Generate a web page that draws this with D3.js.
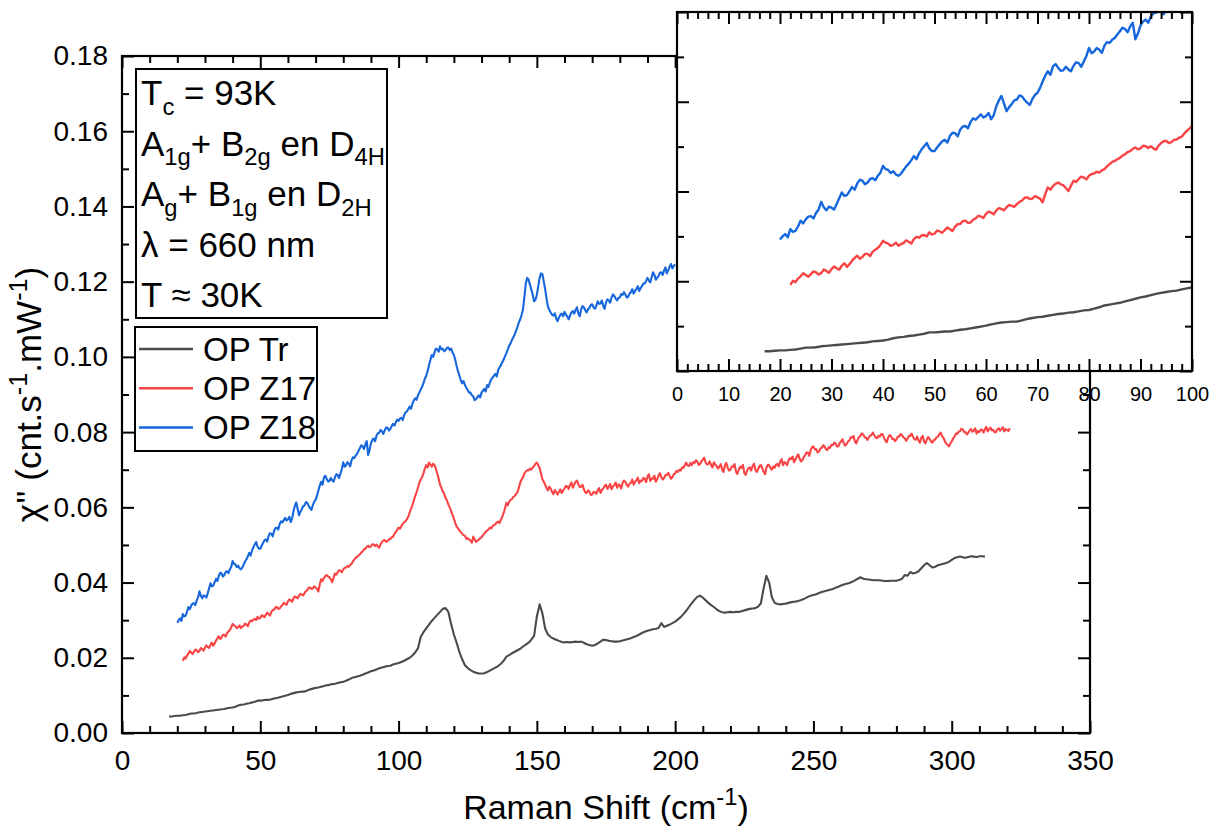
<!DOCTYPE html>
<html><head><meta charset="utf-8">
<script src="https://cdn.jsdelivr.net/npm/d3@7"></script>
<style>
body{margin:0;background:#fff}
svg{font-family:"Liberation Sans",Arial,sans-serif}
</style>
</head><body>
<svg id="c" width="1214" height="829"></svg>
<script>
// ---------- data ----------
// OP Tr : from 17 cm-1, every 1 cm-1
const trStart = 17, trStep = 1;
const trY = [
.0044,.0044,.0045,.0046,.0046,.0047,.0048,.0050,.0052,.0052,
.0053,.0055,.0056,.0057,.0058,.0059,.0060,.0061,.0062,.0063,
.0064,.0066,.0067,.0068,.0070,.0073,.0075,.0076,.0078,.0079,
.0081,.0083,.0086,.0086,.0087,.0088,.0088,.0090,.0092,.0093,
.0095,.0097,.0099,.0101,.0104,.0106,.0108,.0109,.0110,.0110,
.0113,.0116,.0118,.0120,.0121,.0123,.0125,.0127,.0128,.0130,
.0131,.0133,.0135,.0136,.0139,.0142,.0146,.0148,.0150,.0152,
.0155,.0158,.0161,.0164,.0166,.0169,.0172,.0174,.0176,.0178,
.0179,.0182,.0184,.0186,.0189,.0192,.0196,.0200,.0206,.0214,
.0225,.0255,.0268,.0278,.0288,.0298,.0306,.0314,.0322,.0330,
.0332,.0322,.0290,.0262,.0240,.0215,.0196,.0180,.0173,.0167,
.0163,.0160,.0158,.0158,.0159,.0162,.0166,.0170,.0174,.0178,
.0184,.0192,.0203,.0207,.0212,.0216,.0220,.0224,.0230,.0235,
.0240,.0248,.0258,.0310,.0342,.0318,.0278,.0262,.0255,.0251,
.0248,.0245,.0242,.0241,.0242,.0241,.0242,.0243,.0242,.0243,
.0240,.0236,.0234,.0232,.0234,.0238,.0243,.0248,.0247,.0245,
.0244,.0243,.0243,.0244,.0246,.0248,.0250,.0252,.0255,.0258,
.0262,.0266,.0269,.0272,.0274,.0276,.0277,.0279,.0292,.0282,
.0285,.0288,.0292,.0296,.0302,.0308,.0316,.0325,.0335,.0345,
.0354,.0362,.0365,.0360,.0353,.0346,.0340,.0335,.0329,.0324,
.0321,.0320,.0321,.0322,.0321,.0322,.0322,.0324,.0326,.0328,
.0330,.0331,.0332,.0336,.0345,.0385,.0418,.0400,.0360,.0346,
.0343,.0342,.0343,.0344,.0346,.0348,.0349,.0350,.0352,.0355,
.0358,.0362,.0365,.0367,.0369,.0372,.0375,.0377,.0379,.0381,
.0383,.0386,.0389,.0392,.0395,.0397,.0399,.0402,.0406,.0410,
.0414,.0410,.0409,.0408,.0407,.0406,.0406,.0406,.0405,.0404,
.0404,.0405,.0405,.0405,.0407,.0410,.0420,.0418,.0428,.0424,
.0426,.0430,.0438,.0446,.0452,.0446,.0440,.0442,.0446,.0448,
.0450,.0452,.0455,.0460,.0465,.0467,.0469,.0467,.0466,.0468,
.0470,.0469,.0468,.0470,.0470,.0469
];
// OP Z17 : from 22 cm-1, every 0.5 cm-1
const z17Start = 22, z17Step = 0.5;
const z17Y = [
.0192,.0201,.0198,.0206,.0211,.0218,.0214,.0210,.0216,.0222,
.0220,.0215,.0218,.0226,.0223,.0219,.0227,.0233,.0229,.0226,
.0235,.0240,.0232,.0238,.0246,.0252,.0257,.0250,.0254,.0261,
.0261,.0256,.0266,.0270,.0274,.0281,.0290,.0286,.0284,.0279,
.0281,.0286,.0279,.0283,.0285,.0291,.0288,.0284,.0294,.0299,
.0297,.0302,.0303,.0300,.0309,.0304,.0306,.0313,.0311,.0308,
.0314,.0320,.0316,.0312,.0322,.0327,.0328,.0334,.0335,.0330,
.0331,.0337,.0340,.0346,.0344,.0341,.0350,.0355,.0353,.0349,
.0358,.0363,.0361,.0358,.0365,.0370,.0368,.0366,.0372,.0377,
.0380,.0386,.0387,.0383,.0384,.0390,.0387,.0384,.0376,.0394,
.0409,.0404,.0412,.0417,.0420,.0416,.0414,.0408,.0401,.0413,
.0424,.0421,.0428,.0433,.0431,.0427,.0435,.0439,.0440,.0444,
.0442,.0447,.0450,.0456,.0461,.0466,.0468,.0472,.0475,.0480,
.0483,.0488,.0490,.0495,.0498,.0494,.0496,.0502,.0501,.0497,
.0501,.0496,.0493,.0502,.0508,.0512,.0513,.0508,.0510,.0515,
.0516,.0520,.0522,.0529,.0535,.0540,.0546,.0543,.0550,.0556,
.0560,.0563,.0568,.0575,.0586,.0596,.0605,.0618,.0630,.0640,
.0652,.0665,.0674,.0680,.0690,.0703,.0712,.0706,.0719,.0714,
.0708,.0716,.0712,.0702,.0690,.0676,.0660,.0652,.0642,.0636,
.0625,.0618,.0608,.0600,.0590,.0580,.0570,.0558,.0549,.0544,
.0538,.0534,.0530,.0526,.0524,.0516,.0518,.0514,.0512,.0506,
.0522,.0515,.0508,.0511,.0514,.0518,.0520,.0526,.0530,.0535,
.0538,.0541,.0546,.0544,.0550,.0553,.0555,.0560,.0562,.0558,
.0567,.0575,.0585,.0598,.0612,.0606,.0615,.0620,.0622,.0628,
.0630,.0636,.0640,.0652,.0666,.0674,.0680,.0690,.0695,.0699,
.0698,.0703,.0700,.0706,.0710,.0716,.0719,.0712,.0705,.0690,
.0675,.0668,.0660,.0652,.0645,.0655,.0650,.0641,.0635,.0646,
.0640,.0634,.0642,.0648,.0638,.0645,.0650,.0657,.0655,.0649,
.0660,.0666,.0652,.0661,.0668,.0671,.0662,.0654,.0655,.0660,
.0648,.0640,.0638,.0645,.0642,.0633,.0634,.0641,.0640,.0636,
.0645,.0651,.0638,.0646,.0650,.0657,.0660,.0649,.0655,.0662,
.0648,.0655,.0660,.0666,.0652,.0661,.0658,.0650,.0665,.0671,
.0668,.0660,.0655,.0663,.0665,.0674,.0660,.0668,.0672,.0679,
.0664,.0671,.0670,.0678,.0676,.0667,.0682,.0688,.0670,.0677,
.0676,.0684,.0668,.0675,.0685,.0691,.0680,.0674,.0678,.0686,
.0686,.0692,.0684,.0676,.0680,.0688,.0690,.0697,.0694,.0700,
.0698,.0706,.0705,.0712,.0719,.0711,.0710,.0718,.0712,.0720,
.0718,.0725,.0722,.0713,.0715,.0722,.0727,.0732,.0720,.0714,
.0715,.0722,.0712,.0706,.0720,.0714,.0710,.0703,.0708,.0715,
.0700,.0694,.0712,.0718,.0705,.0698,.0700,.0709,.0708,.0715,
.0695,.0689,.0700,.0708,.0705,.0713,.0692,.0686,.0698,.0704,
.0706,.0698,.0710,.0716,.0700,.0694,.0702,.0710,.0712,.0704,
.0695,.0688,.0705,.0713,.0712,.0704,.0700,.0709,.0705,.0714,
.0715,.0709,.0722,.0728,.0712,.0720,.0718,.0712,.0725,.0731,
.0728,.0735,.0720,.0727,.0735,.0741,.0730,.0722,.0725,.0734,
.0738,.0746,.0745,.0737,.0752,.0760,.0762,.0754,.0755,.0746,
.0748,.0757,.0758,.0765,.0762,.0755,.0752,.0760,.0758,.0766,
.0765,.0772,.0770,.0762,.0762,.0771,.0775,.0781,.0770,.0764,
.0768,.0775,.0778,.0786,.0785,.0790,.0775,.0770,.0780,.0787,
.0790,.0797,.0794,.0786,.0786,.0779,.0785,.0791,.0792,.0799,
.0792,.0785,.0784,.0790,.0788,.0795,.0794,.0786,.0778,.0773,
.0785,.0792,.0790,.0782,.0782,.0776,.0780,.0788,.0788,.0795,
.0792,.0786,.0784,.0777,.0782,.0790,.0790,.0796,.0788,.0781,
.0780,.0788,.0778,.0772,.0785,.0790,.0775,.0770,.0780,.0787,
.0782,.0775,.0772,.0779,.0780,.0786,.0788,.0794,.0799,.0790,
.0785,.0776,.0770,.0766,.0762,.0770,.0775,.0783,.0788,.0796,
.0795,.0801,.0802,.0809,.0807,.0800,.0800,.0794,.0798,.0805,
.0808,.0801,.0804,.0810,.0796,.0803,.0800,.0807,.0806,.0799,
.0808,.0814,.0802,.0808,.0812,.0805,.0806,.0800,.0800,.0808,
.0810,.0804,.0808,.0813,.0802,.0808,.0806,.0803,.0810
];
// OP Z18 : from 20 cm-1, every 0.5 cm-1 (hidden behind the inset above 200)
const z18Start = 20, z18Step = 0.5;
const z18Y = [
.0293,.0300,.0305,.0298,.0316,.0310,.0312,.0322,.0335,.0329,
.0338,.0344,.0345,.0340,.0352,.0360,.0377,.0365,.0358,.0366,
.0364,.0360,.0372,.0385,.0398,.0390,.0392,.0401,.0410,.0404,
.0418,.0426,.0424,.0416,.0420,.0428,.0430,.0425,.0435,.0442,
.0457,.0450,.0448,.0441,.0445,.0438,.0435,.0440,.0448,.0456,
.0462,.0470,.0479,.0472,.0485,.0494,.0501,.0508,.0496,.0490,
.0490,.0498,.0505,.0512,.0515,.0509,.0524,.0531,.0530,.0523,
.0538,.0545,.0546,.0541,.0555,.0563,.0560,.0566,.0572,.0565,
.0568,.0575,.0561,.0570,.0590,.0603,.0613,.0596,.0579,.0588,
.0595,.0603,.0605,.0614,.0612,.0604,.0598,.0593,.0606,.0615,
.0620,.0631,.0645,.0658,.0668,.0660,.0679,.0684,.0676,.0669,
.0670,.0678,.0672,.0668,.0680,.0688,.0686,.0678,.0690,.0702,
.0720,.0708,.0712,.0720,.0716,.0709,.0725,.0733,.0731,.0738,
.0742,.0750,.0757,.0765,.0762,.0755,.0768,.0776,.0739,.0752,
.0770,.0779,.0783,.0776,.0790,.0797,.0798,.0806,.0802,.0795,
.0805,.0812,.0812,.0804,.0808,.0816,.0822,.0817,.0826,.0833,
.0830,.0836,.0838,.0832,.0845,.0852,.0855,.0861,.0868,.0862,
.0875,.0884,.0890,.0886,.0898,.0905,.0913,.0920,.0930,.0942,
.0950,.0962,.0978,.0992,.1005,.1000,.1012,.1022,.1020,.1014,
.1028,.1020,.1022,.1015,.1018,.1024,.1025,.1018,.1022,.1012,
.1005,.0992,.0975,.0962,.0950,.0938,.0930,.0936,.0925,.0918,
.0912,.0905,.0905,.0898,.0895,.0885,.0888,.0893,.0898,.0892,
.0905,.0910,.0915,.0908,.0925,.0920,.0932,.0940,.0945,.0950,
.0955,.0948,.0965,.0972,.0978,.0986,.0993,.1002,.1010,.1020,
.1030,.1036,.1045,.1052,.1060,.1070,.1080,.1092,.1100,.1112,
.1126,.1160,.1195,.1210,.1206,.1192,.1180,.1165,.1148,.1152,
.1165,.1188,.1210,.1222,.1220,.1200,.1180,.1155,.1134,.1125,
.1118,.1112,.1110,.1116,.1102,.1095,.1105,.1112,.1115,.1108,
.1120,.1112,.1108,.1100,.1110,.1118,.1122,.1115,.1125,.1132,
.1115,.1108,.1126,.1135,.1132,.1124,.1118,.1127,.1130,.1138,
.1140,.1132,.1128,.1136,.1148,.1141,.1142,.1150,.1135,.1128,
.1145,.1153,.1150,.1144,.1158,.1166,.1162,.1155,.1150,.1157,
.1158,.1167,.1165,.1172,.1166,.1158,.1160,.1168,.1172,.1180,
.1168,.1176,.1180,.1188,.1175,.1183,.1188,.1195,.1195,.1202,
.1210,.1203,.1198,.1212,.1225,.1218,.1205,.1210,.1215,.1224,
.1225,.1218,.1230,.1238,.1222,.1230,.1240,.1247,.1235,.1242,
.1246
];
const seriesNames = ["OP Tr", "OP Z17", "OP Z18"];
const seriesColors = ["#4b4b4b", "#f84444", "#1666dc"];

const mainXTicks = [0, 50, 100, 150, 200, 250, 300, 350];
const mainXMinor = [10,20,30,40,60,70,80,90,110,120,130,140,160,170,180,190,210,220,230,240,260,270,280,290,310,320,330,340];
const mainYTicks = [0.00,0.02,0.04,0.06,0.08,0.10,0.12,0.14,0.16,0.18];
const mainYMinor = [0.01,0.03,0.05,0.07,0.09,0.11,0.13,0.15,0.17];
const insetXTicks = [0,10,20,30,40,50,60,70,80,90,100];
const insetXMinor = [2,4,6,8,12,14,16,18,22,24,26,28,32,34,36,38,42,44,46,48,52,54,56,58,62,64,66,68,72,74,76,78,82,84,86,88,92,94,96,98];
const insetYTicks = [0,0.02,0.04,0.06,0.08];
const insetYMinor = [0.01,0.03,0.05,0.07];

const xTitle = [{t:"Raman Shift (cm"},{t:"-1",sup:true},{t:")"}];
const yTitle = [{t:"\u03C7'' (cnt.s"},{t:"-1",sup:true},{t:".mW"},{t:"-1",sup:true},{t:")"}];
const infoLines = [
  [{t:"T"},{t:"c",sub:true},{t:" = 93K"}],
  [{t:"A"},{t:"1g",sub:true},{t:"+ B"},{t:"2g",sub:true},{t:" en D"},{t:"4H",sub:true}],
  [{t:"A"},{t:"g",sub:true},{t:"+ B"},{t:"1g",sub:true},{t:" en D"},{t:"2H",sub:true}],
  [{t:"\u03BB = 660 nm"}],
  [{t:"T \u2248 30K"}]
];

// ---------- build ----------
const series = [
  {name: seriesNames[0], color: seriesColors[0], pts: trY.map((v,i)=>[trStart+i*trStep, v])},
  {name: seriesNames[1], color: seriesColors[1], pts: z17Y.map((v,i)=>[z17Start+i*z17Step, v])},
  {name: seriesNames[2], color: seriesColors[2], pts: z18Y.map((v,i)=>[z18Start+i*z18Step, v])}
];

const svg = d3.select("#c");
svg.append("rect").attr("width",1214).attr("height",829).attr("fill","#fff");

function richText(sel, segs, fs, k) {
  k = k || 0.68;
  let shift = 0;
  segs.forEach(s => {
    const target = s.sub ? fs*0.28 : (s.sup ? -fs*0.4 : 0);
    sel.append("tspan")
      .attr("dy", target - shift)
      .attr("font-size", (s.sub||s.sup) ? fs*k : fs)
      .text(s.t);
    shift = target;
  });
}

function frameAxes(g, x, y, o) {
  const [x0,x1] = x.range(), [y0,y1] = y.range();
  const fix = a => { a.select(".domain").remove(); a.selectAll(".tick line").attr("stroke","#000").attr("stroke-width",2); };
  const lab = a => a.selectAll("text").attr("font-size",o.fs).attr("fill","#000").attr("font-family","Liberation Sans, Arial, sans-serif");
  g.append("g").attr("transform",`translate(0,${y0})`)
    .call(d3.axisBottom(x).tickValues(o.xt).tickSize(-o.maj).tickPadding(o.xpad).tickFormat(d3.format("d")))
    .call(fix).call(lab);
  g.append("g").attr("transform",`translate(0,${y0})`)
    .call(d3.axisBottom(x).tickValues(o.xm).tickSize(-o.min).tickFormat("")).call(fix);
  g.append("g").attr("transform",`translate(0,${y1})`)
    .call(d3.axisTop(x).tickValues(o.xt).tickSize(-o.maj).tickFormat("")).call(fix);
  g.append("g").attr("transform",`translate(0,${y1})`)
    .call(d3.axisTop(x).tickValues(o.xm).tickSize(-o.min).tickFormat("")).call(fix);
  g.append("g").attr("transform",`translate(${x0},0)`)
    .call(d3.axisLeft(y).tickValues(o.yt).tickSize(-o.maj).tickPadding(o.ypad).tickFormat(o.yfmt ? d3.format(o.yfmt) : ""))
    .call(fix).call(lab);
  g.append("g").attr("transform",`translate(${x0},0)`)
    .call(d3.axisLeft(y).tickValues(o.ym).tickSize(-o.min).tickFormat("")).call(fix);
  g.append("g").attr("transform",`translate(${x1},0)`)
    .call(d3.axisRight(y).tickValues(o.yt).tickSize(-o.maj).tickFormat("")).call(fix);
  g.append("g").attr("transform",`translate(${x1},0)`)
    .call(d3.axisRight(y).tickValues(o.ym).tickSize(-o.min).tickFormat("")).call(fix);
  g.append("rect").attr("x",x0).attr("y",y1).attr("width",x1-x0).attr("height",y0-y1)
    .attr("fill","none").attr("stroke","#000").attr("stroke-width",2.2);
}

// ---------- main plot ----------
const M = {l:122, r:1090, t:56, b:733};
const x = d3.scaleLinear().domain([0,350]).range([M.l, M.r]);
const y = d3.scaleLinear().domain([0,0.18]).range([M.b, M.t]);

svg.append("clipPath").attr("id","clipMain").append("rect")
  .attr("x",M.l).attr("y",M.t).attr("width",M.r-M.l).attr("height",M.b-M.t);
const line = d3.line().x(d=>x(d[0])).y(d=>y(d[1]));
const gLines = svg.append("g").attr("clip-path","url(#clipMain)");
series.forEach(s => gLines.append("path").datum(s.pts).attr("d",line)
  .attr("fill","none").attr("stroke",s.color).attr("stroke-width",2.1).attr("stroke-linejoin","round"));

frameAxes(svg.append("g"), x, y, {xt:mainXTicks, xm:mainXMinor, yt:mainYTicks, ym:mainYMinor,
  maj:12, min:7, fs:28, xpad:17, ypad:14, yfmt:".2f"});

// axis titles
richText(svg.append("text").attr("x",(M.l+M.r)/2).attr("y",819).attr("text-anchor","middle").attr("fill","#000"), xTitle, 34, 0.7);
richText(svg.append("text").attr("transform",`translate(41,${(M.t+M.b)/2}) rotate(-90)`).attr("text-anchor","middle").attr("fill","#000"), yTitle, 35, 0.72);

// info box
svg.append("rect").attr("x",136).attr("y",69).attr("width",251).attr("height",249)
  .attr("fill","#fff").attr("stroke","#000").attr("stroke-width",2);
infoLines.forEach((segs,i) => {
  richText(svg.append("text").attr("x",141).attr("y",105 + i*50.5).attr("fill","#000"), segs, 35, 0.68);
});

// legend
svg.append("rect").attr("x",135).attr("y",327).attr("width",182).attr("height",124)
  .attr("fill","#fff").attr("stroke","#000").attr("stroke-width",2);
series.forEach((s,i) => {
  const cy = 349 + i*39.3;
  svg.append("line").attr("x1",139).attr("x2",193).attr("y1",cy).attr("y2",cy)
    .attr("stroke",s.color).attr("stroke-width",2.5);
  svg.append("text").attr("x",203).attr("y",cy+11.5).attr("font-size",33).attr("fill","#000").text(s.name);
});

// ---------- inset ----------
const I = {l:677, r:1192, t:12, b:371};
const xi = d3.scaleLinear().domain([0,100]).range([I.l, I.r]);
const yi = d3.scaleLinear().domain([0,0.08]).range([I.b, I.t]);
svg.append("rect").attr("x",I.l).attr("y",I.t).attr("width",I.r-I.l).attr("height",I.b-I.t).attr("fill","#fff");
svg.append("clipPath").attr("id","clipInset").append("rect")
  .attr("x",I.l).attr("y",I.t).attr("width",I.r-I.l).attr("height",I.b-I.t);
const linei = d3.line().x(d=>xi(d[0])).y(d=>yi(d[1]));
const gIn = svg.append("g").attr("clip-path","url(#clipInset)");
series.forEach(s => gIn.append("path").datum(s.pts.filter(p=>p[0]<=101)).attr("d",linei)
  .attr("fill","none").attr("stroke",s.color).attr("stroke-width",2.4).attr("stroke-linejoin","round"));
frameAxes(svg.append("g"), xi, yi, {xt:insetXTicks, xm:insetXMinor, yt:insetYTicks, ym:insetYMinor,
  maj:12, min:7, fs:20, xpad:16, ypad:10, yfmt:null});
</script>
</body></html>
